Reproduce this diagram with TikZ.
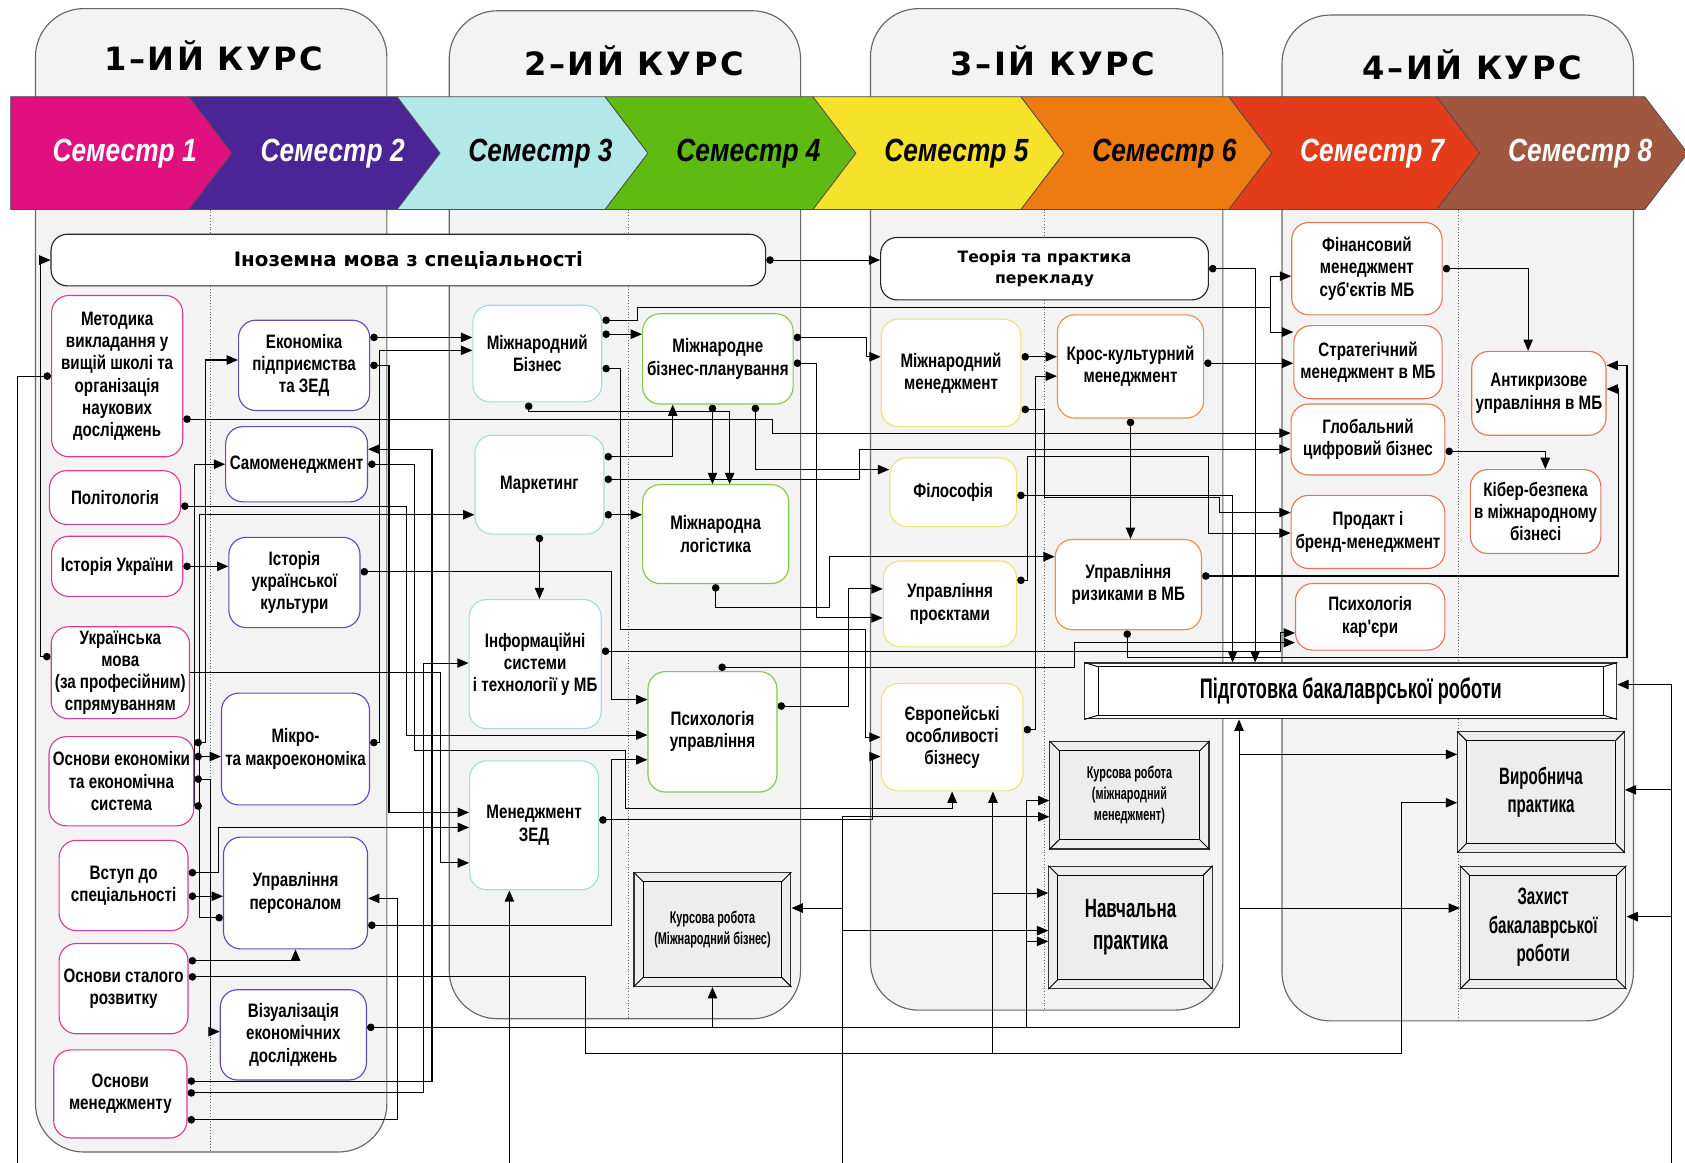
\documentclass[tikz,border=0pt]{standalone}
\usepackage{fontspec}
\setmainfont{Liberation Sans}
\newfontfamily\condfont[FakeStretch=0.78]{Liberation Sans}
\newfontfamily\narrowfont[FakeStretch=0.64]{Liberation Sans}
\newfontfamily\widefont{DejaVu Sans}
\newfontfamily\headfont[LetterSpace=8]{DejaVu Sans}
\newfontfamily\semfont[FakeStretch=0.82]{Liberation Sans}
\usetikzlibrary{arrows.meta}

\definecolor{semA}{HTML}{E0117F}
\definecolor{semB}{HTML}{4B2596}
\definecolor{semC}{HTML}{B3E8E8}
\definecolor{semD}{HTML}{5FBB12}
\definecolor{semE}{HTML}{F6E12B}
\definecolor{semF}{HTML}{EE7B0F}
\definecolor{semG}{HTML}{E23C1B}
\definecolor{semH}{HTML}{A0573F}
\definecolor{edgeA}{HTML}{D63C95}
\definecolor{edgeB}{HTML}{6A48B0}
\definecolor{edgeC}{HTML}{A6DCE0}
\definecolor{edgeD}{HTML}{86C64E}
\definecolor{edgeE}{HTML}{EDE37A}
\definecolor{edgeF}{HTML}{E89050}
\definecolor{edgeG}{HTML}{E0785A}
\definecolor{panelgray}{HTML}{F3F3F3}

\pgfdeclarelayer{back}
\pgfdeclarelayer{wires}
\pgfsetlayers{back,wires,main}

\tikzset{
  subj/.style={draw=#1, fill=white, rounded corners=0.32cm, line width=0.6pt,
    align=center, inner sep=2pt, font=\condfont\bfseries\fontsize{10.3}{11.8}\selectfont},
  dims/.style 2 args={minimum width=#1*0.02cm, minimum height=#2*0.02cm},
  plate/.style={draw=black!80, fill=black!7, line width=0.6pt, align=center, inner sep=2pt},
  wide/.style={draw=black!85, fill=white, rounded corners=0.3cm, line width=0.6pt,
    align=center, font=\widefont\bfseries\fontsize{10.5}{12}\selectfont},
  panel/.style={draw=black!60, fill=panelgray, rounded corners=0.9cm, line width=0.6pt},
  divider/.style={densely dotted, black!60, line width=0.5pt},
  coursehead/.style={font=\headfont\bfseries\fontsize{17}{20}\selectfont},
  semlabel/.style={font=\semfont\bfseries\itshape\fontsize{17}{20}\selectfont},
  link/.style={line width=0.55pt, {Circle[length=4pt]}-{Triangle[length=6pt,width=5pt]}},
  lead/.style={line width=0.55pt, -{Triangle[length=6pt,width=5pt]}},
  tail/.style={line width=0.55pt, {Circle[length=4pt]}-}
}

\begin{document}
\begin{tikzpicture}[x=0.02cm, y=-0.02cm]
  \def\bevel#1#2#3{%
    \draw[line width=0.5pt] ([shift={(#2,#3)}]#1.north west) rectangle ([shift={(-#2,-#3)}]#1.south east);
    \draw[line width=0.5pt] (#1.north west) -- ++(#2,#3) (#1.north east) -- ++(-#2,#3)
      (#1.south west) -- ++(#2,-#3) (#1.south east) -- ++(-#2,-#3);}

  \useasboundingbox (0,0) rectangle (1568,1082);

  \begin{pgfonlayer}{back}
    \draw[panel] (33,8) rectangle (360,1072);
    \draw[panel] (418,10) rectangle (745,948);
    \draw[panel] (810,8) rectangle (1138,940);
    \draw[panel] (1193,14) rectangle (1520,950);
    \draw[divider] (196,195) -- (196,1072);
    \draw[divider] (585,195) -- (585,948);
    \draw[divider] (972,195) -- (972,940);
    \draw[divider] (1357,195) -- (1357,950);
    \node[coursehead] (kurs1head) at (199,52) {1–ИЙ КУРС};
    \node[coursehead] (kurs2head) at (590,57) {2–ИЙ КУРС};
    \node[coursehead] (kurs3head) at (980,57) {3–ІЙ КУРС};
    \node[coursehead] (kurs4head) at (1370,60) {4–ИЙ КУРС};
    \foreach \i/\fc/\tc in {1/semA/white,2/semB/white,3/semC/black,4/semD/black,
                            5/semE/black,6/semF/black,7/semG/white,8/semH/white}{
      \pgfmathsetmacro\xr{176+193.5*(\i-1)}
      \pgfmathsetmacro\xl{\i==1 ? 10 : \xr-193.5}
      \pgfmathsetmacro\nt{\i==1 ? 0 : 40}
      \fill[\fc, draw=black!70, line width=0.4pt] (\xl,90) -- (\xr,90) -- ({\xr+40},142.5)
        -- (\xr,195) -- (\xl,195) -- ({\xl+\nt},142.5) -- cycle;
      \node[semlabel, text=\tc] (sem\i) at ({\xr-60},143) {Семестр \i};
    }
  \end{pgfonlayer}

  \node[wide, dims={665}{48}] (inozem) at (380,242) {Іноземна мова з спеціальності};
  \node[subj=edgeA, dims={122}{150}] (metod) at (109,350) {Методика\\викладання у\\вищій школі та\\організація\\наукових\\досліджень};
  \node[subj=edgeA, dims={122}{50}] (polit) at (107,463) {Політологія};
  \node[subj=edgeA, dims={122}{56}] (histua) at (109,527) {Історія України};
  \node[subj=edgeA, dims={120}{82}] (ukrmova) at (112,626) {Українська\\мова\\(за професійним)\\спрямуванням};
  \node[subj=edgeA, dims={124}{83}] (osnek) at (113,727) {Основи економіки\\та економічна\\система};
  \node[subj=edgeA, dims={120}{84}] (vstup) at (115,824) {Вступ до\\спеціальності};
  \node[subj=edgeA, dims={120}{84}] (stalyi) at (115,920) {Основи сталого\\розвитку};
  \node[subj=edgeA, dims={124}{82}] (osnmen) at (112,1018) {Основи\\менеджменту};

  \node[subj=edgeB, dims={122}{84}] (ekonpid) at (283,340) {Економіка\\підприємства\\та ЗЕД};
  \node[subj=edgeB, dims={132}{70}] (samomen) at (276,432) {Самоменеджмент};
  \node[subj=edgeB, dims={122}{84}] (histcult) at (274,542) {Історія\\української\\культури};
  \node[subj=edgeB, dims={134}{104}] (mikro) at (275,697) {Мікро-\\та макроекономіка};
  \node[subj=edgeB, dims={134}{104}] (upers) at (275,831) {Управління\\персоналом};
  \node[subj=edgeB, dims={136}{84}] (vizual) at (273,963) {Візуалізація\\економічних\\досліджень};

  \node[subj=edgeC, dims={120}{90}] (mbiz) at (500,329) {Міжнародний\\Бізнес};
  \node[subj=edgeC, dims={120}{92}] (market) at (502,451) {Маркетинг};
  \node[subj=edgeC, dims={120}{120}] (infsys) at (498,618) {Інформаційні\\системи\\і технології у МБ};
  \node[subj=edgeC, dims={120}{120}] (menzed) at (497,768) {Менеджмент\\ЗЕД};

  \node[subj=edgeD, dims={140}{84}] (mbplan) at (668,334) {Міжнародне\\бізнес-планування};
  \node[subj=edgeD, dims={136}{92}] (mlog) at (666,497) {Міжнародна\\логістика};
  \node[subj=edgeD, dims={120}{112}] (psyupr) at (663,681) {Психологія\\управління};
  \node[plate, dims={146}{106}, font=\narrowfont\bfseries\fontsize{9}{11}\selectfont] (kurs1) at (663,865) {Курсова робота\\(Міжнародний бізнес)};

  \node[wide, dims={305}{58}, font=\widefont\bfseries\fontsize{8.3}{11}\selectfont] (teoria) at (972,250) {Теорія та практика\\перекладу};
  \node[subj=edgeE, dims={130}{100}] (mmen) at (885,347) {Міжнародний\\менеджмент};
  \node[subj=edgeE, dims={118}{64}] (filos) at (887,458) {Філософія};
  \node[subj=edgeE, dims={124}{80}] (uproj) at (884,562) {Управління\\проєктами};
  \node[subj=edgeE, dims={132}{100}] (evrop) at (886,686) {Європейські\\особливості\\бізнесу};

  \node[subj=edgeF, dims={136}{96}] (kros) at (1052,341) {Крос-культурний\\менеджмент};
  \node[subj=edgeF, dims={136}{84}] (ryzyk) at (1050,544) {Управління\\ризиками в МБ};
  \node[plate, dims={148}{100}, font=\narrowfont\bfseries\fontsize{9}{11}\selectfont] (kurs2) at (1051,740) {Курсова робота\\(міжнародний\\менеджмент)};
  \node[plate, dims={152}{114}, font=\narrowfont\bfseries\fontsize{14}{17}\selectfont] (navch) at (1052,863) {Навчальна\\практика};

  \node[subj=edgeG, dims={140}{86}] (finmen) at (1272,250) {Фінансовий\\менеджмент\\суб'єктів МБ};
  \node[subj=edgeG, dims={138}{68}] (strat) at (1273,337) {Стратегічний\\менеджмент в МБ};
  \node[subj=edgeG, dims={143}{66}] (global) at (1273,409) {Глобальний\\цифровий бізнес};
  \node[subj=edgeG, dims={143}{68}] (brand) at (1273,495) {Продакт і\\бренд-менеджмент};
  \node[subj=edgeG, dims={139}{62}] (psykar) at (1275,574) {Психологія\\кар'єри};
  \node[subj=edgeG, dims={120}{78}] (antikr) at (1432,366) {Антикризове\\управління в МБ};
  \node[subj=edgeG, dims={118}{78}] (kiber) at (1429,476) {Кібер-безпека\\в міжнародному\\бізнесі};
  \node[plate, dims={155}{112}, font=\narrowfont\bfseries\fontsize{12.5}{15}\selectfont] (vyrob) at (1434,737) {Виробнича\\практика};
  \node[plate, dims={154}{114}, font=\narrowfont\bfseries\fontsize{12.5}{15}\selectfont] (zakhyst) at (1436,863) {Захист\\бакалаврської\\роботи};
  \node[plate, fill=white, dims={495}{52}, font=\narrowfont\bfseries\fontsize{15}{18}\selectfont] (pidgot) at (1257,643) {Підготовка бакалаврської роботи};

  \bevel{kurs1}{9}{9}
  \bevel{kurs2}{9}{9}
  \bevel{navch}{9}{9}
  \bevel{vyrob}{9}{9}
  \bevel{zakhyst}{9}{9}
  \bevel{pidgot}{13}{4}

  \coordinate (bl1) at (16,1082);
  \coordinate (bl2) at (474,1082);
  \coordinate (bl3) at (784,1082);
  \coordinate (bl4) at (1555,1082);
  \coordinate (jE) at (924,980);
  \coordinate (jN) at (924,831);
  \coordinate (jK) at (955,956);
  \coordinate (jK2) at (955,876);
  \coordinate (jB) at (663,956);
  \coordinate (jP) at (1153,702);
  \coordinate (jZ) at (1153,845);
  \coordinate (jS) at (1182,286);
  \coordinate (jM) at (784,845);
  \coordinate (jM2) at (784,866);
  \coordinate (jR) at (1555,735);
  \coordinate (jR2) at (1555,853);

  \begin{pgfonlayer}{wires}
    \draw[tail] (metod.west) -| (bl1);
    \draw[link] (ukrmova.west |- 0,611) -- (38,611) |- (inozem.west);
    \draw[link] (metod.east |- 0,390) -- (719,390) |- (global.west |- 0,403);
    \draw[link] (polit.east |- 0,471) -- (378,471) |- (psyupr.west |- 0,684);
    \draw[link] (histua.east) -- (histcult.west |- histua.east);
    \draw[link] (histcult.east |- 0,532) -- (569,532) |- (psyupr.west |- 0,651);
    \draw[lead] (ukrmova.east |- 0,626) -- (410,626) |- (menzed.west |- 0,803);
    \draw[link] (osnek.east |- 0,691) -- (191,691) |- (ekonpid.west |- 0,335);
    \draw[link] (osnek.east |- 0,704) -- (mikro.west |- 0,704);
    \draw[link] (osnek.east |- 0,725) -- (196,725) |- (vizual.west |- 0,960);
    \draw[link] (osnek.east |- 0,750) -- (181,750) |- (samomen.west |- 0,432);
    \draw[link] (vstup.east |- 0,812) -- (203,812) |- (menzed.west |- 0,770);
    \draw[link] (vstup.east |- 0,834) -- (upers.west |- 0,834);
    \draw[link] (upers.west |- 0,854) -- (186,854) |- (market.west |- 0,479);
    \draw[link] (stalyi.east |- 0,894) -| (upers.south);
    \draw[link] (stalyi.east |- 0,909) -- (545,909) -- (545,980) -- (1304,980) |- (vyrob.west |- 0,747);
    \draw[lead] (jE) -- (evrop.south -| jE);
    \draw[lead] (jN) -- (navch.west |- jN);
    \draw[link] (vizual.east |- 0,956) -- (1153,956) -- (pidgot.south -| 1153,0);
    \draw[lead] (jK) |- (kurs2.west |- 0,745);
    \draw[lead] (jK2) -- (navch.west |- jK2);
    \draw[lead] (jB) -- (kurs1.south);
    \draw[lead] (jP) -- (vyrob.west |- jP);
    \draw[lead] (jZ) -- (zakhyst.west |- jZ);
    \draw[lead] (bl2) -- (menzed.south -| bl2);
    \draw[lead] (bl3) |- (kurs2.west |- 0,760);
    \draw[lead] (jM) -- (kurs1.east |- jM);
    \draw[lead] (jM2) -- (navch.west |- jM2);
    \draw[lead] (bl4) |- (pidgot.east |- 0,637);
    \draw[lead] (jR) -- (vyrob.east |- jR);
    \draw[lead] (jR2) -- (zakhyst.east |- jR2);
    \draw[link] (osnmen.east |- 0,1006) -- (402,1006) |- (samomen.east |- 0,418);
    \draw[link] (osnmen.east |- 0,1017) -- (394,1017) |- (infsys.west |- 0,617);
    \draw[link] (osnmen.east |- 0,1042) -- (370,1042) |- (upers.east |- 0,836);
    \draw[link] (ekonpid.east |- 0,314) -- (mbiz.west |- 0,314);
    \draw[link] (ekonpid.east |- 0,340) -- (362,340) |- (menzed.west |- 0,756);
    \draw[link] (mikro.east |- 0,691) -- (353,691) |- (mbiz.west |- 0,326);
    \draw[link] (samomen.east |- 0,432) -- (386,432) -- (386,698) -- (582,698) -- (582,752) -| (evrop.south -| 886,0);
    \draw[link] (upers.east |- 0,861) -- (569,861) |- (psyupr.west |- 0,707);

    \draw[link] (mbiz.east |- 0,298) -- (593,298) -- (593,286) -- (1182,286) |- (finmen.west |- 0,257);
    \draw[lead] (jS) |- (strat.west |- 0,309);
    \draw[link] (mbiz.east |- 0,311) -- (mbplan.west |- 0,311);
    \draw[link] (mbiz.east |- 0,343) -- (577,343) -- (577,586) -- (805,586) |- (evrop.west |- 0,686);
    \draw[link] (mbiz.south -| 492,0) -- (492,383) -| (mlog.north -| 679,0);
    \draw[link] (market.east |- 0,425) -| (mbplan.south -| 626,0);
    \draw[link] (market.east |- 0,446) -- (800,446) |- (global.west |- 0,418);
    \draw[link] (market.east |- 0,479) -- (mlog.west |- 0,479);
    \draw[link] (market.south) -- (market.south |- infsys.north);
    \draw[link] (mbplan.south -| 663,0) -- (mlog.north -| 663,0);
    \draw[link] (mbplan.south -| 703,0) -- (703,437) -- (filos.west |- 0,437);
    \draw[link] (mbplan.east |- 0,314) -- (806,314) |- (mmen.west |- 0,332);
    \draw[link] (mbplan.east |- 0,338) -- (760,338) |- (uproj.west |- 0,575);
    \draw[link] (mlog.south) -- (mlog.south |- 0,565) -- (772,565) |- (ryzyk.west |- 0,518);
    \draw[link] (infsys.east |- 0,606) -- (1192,606) |- (psykar.west |- 0,589);
    \draw[link] (psyupr.north -| 672,0) -- (672,621) -- (1000,621) |- (psykar.west |- 0,598);
    \draw[link] (psyupr.east |- 0,657) -- (790,657) |- (uproj.west |- 0,548);
    \draw[link] (menzed.east |- 0,763) -- (812,763) |- (evrop.west |- 0,704);

    \draw[link] (inozem.east) -- (teoria.west |- inozem.east);
    \draw[link] (teoria.east |- 0,250) -- (1168,250) -- (pidgot.north -| 1168,0);
    \draw[link] (mmen.east |- 0,332) -- (kros.west |- 0,332);
    \draw[link] (mmen.east |- 0,381) -- (972,381) -- (972,463) -- (1135,463) |- (brand.west |- 0,477);
    \draw[link] (filos.east |- 0,461) -- (1147,461) -- (pidgot.north -| 1147,0);
    \draw[link] (uproj.east |- 0,540) -- (956,540) -- (956,425) -- (1125,425) |- (brand.west |- 0,496);
    \draw[link] (evrop.east |- 0,679) -- (964,679) |- (kros.west |- 0,350);
    \draw[link] (kros.south) -- (kros.south |- ryzyk.north);
    \draw[link] (kros.east |- 0,338) -- (strat.west |- 0,338);
    \draw[link] (ryzyk.east |- 0,536) -- (1506,536) |- (antikr.east |- 0,362);
    \draw[link] (ryzyk.south -| 1049,0) -- (1049,612) -- (1514,612) |- (antikr.east |- 0,340);
    \draw[link] (finmen.east |- 0,250) -| (antikr.north -| 1422,0);
    \draw[link] (global.east |- 0,420) -| (kiber.north -| 1438,0);
  \end{pgfonlayer}
\end{tikzpicture}
\end{document}
